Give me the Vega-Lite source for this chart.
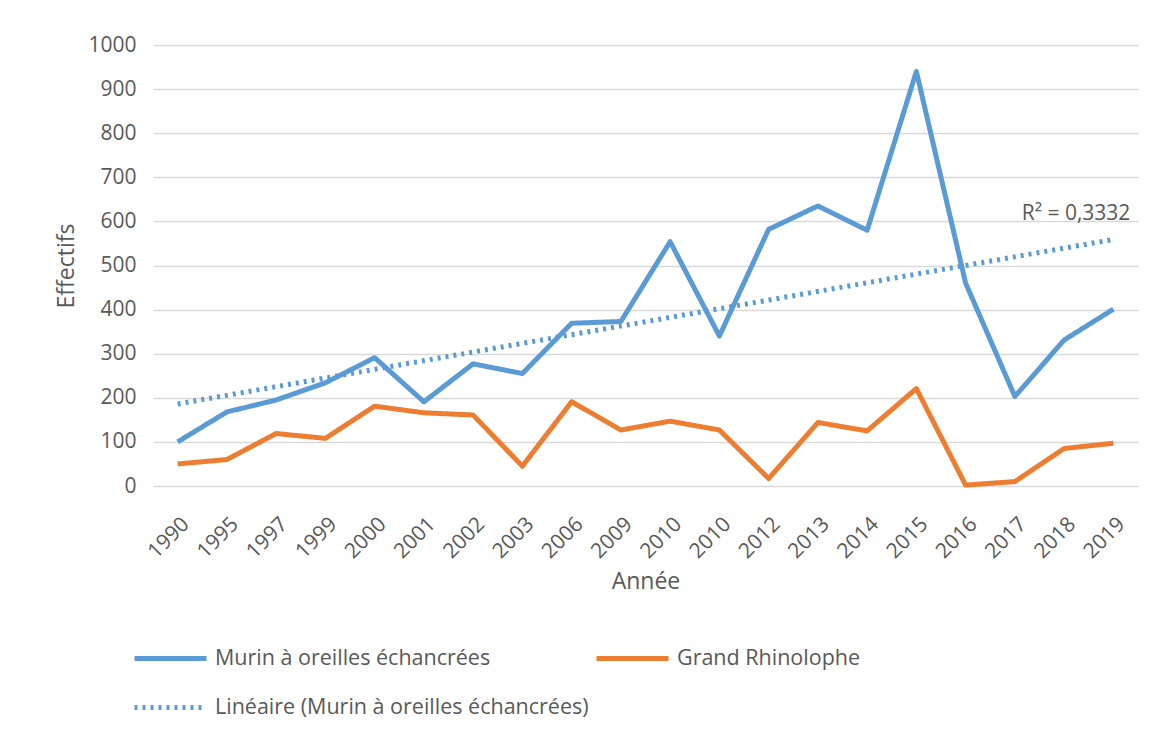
{
  "$schema": "https://vega.github.io/schema/vega-lite/v6.json",
  "width": 985,
  "height": 441,
  "autosize": {"type": "none"},
  "padding": {"left": 153, "top": 45, "right": 12, "bottom": 245},
  "background": "white",
  "config": {
    "font": "Open Sans",
    "view": {"stroke": null}
  },
  "datasets": {
    "series": [
      {"annee": "1990", "serie": "Murin à oreilles échancrées", "effectif": 100},
      {"annee": "1995", "serie": "Murin à oreilles échancrées", "effectif": 168},
      {"annee": "1997", "serie": "Murin à oreilles échancrées", "effectif": 195},
      {"annee": "1999", "serie": "Murin à oreilles échancrées", "effectif": 234},
      {"annee": "2000", "serie": "Murin à oreilles échancrées", "effectif": 291},
      {"annee": "2001", "serie": "Murin à oreilles échancrées", "effectif": 191},
      {"annee": "2002", "serie": "Murin à oreilles échancrées", "effectif": 277},
      {"annee": "2003", "serie": "Murin à oreilles échancrées", "effectif": 255},
      {"annee": "2006", "serie": "Murin à oreilles échancrées", "effectif": 369},
      {"annee": "2009", "serie": "Murin à oreilles échancrées", "effectif": 373},
      {"annee": "2010-a", "serie": "Murin à oreilles échancrées", "effectif": 554},
      {"annee": "2010-b", "serie": "Murin à oreilles échancrées", "effectif": 340},
      {"annee": "2012", "serie": "Murin à oreilles échancrées", "effectif": 582},
      {"annee": "2013", "serie": "Murin à oreilles échancrées", "effectif": 635},
      {"annee": "2014", "serie": "Murin à oreilles échancrées", "effectif": 580},
      {"annee": "2015", "serie": "Murin à oreilles échancrées", "effectif": 940},
      {"annee": "2016", "serie": "Murin à oreilles échancrées", "effectif": 460},
      {"annee": "2017", "serie": "Murin à oreilles échancrées", "effectif": 203},
      {"annee": "2018", "serie": "Murin à oreilles échancrées", "effectif": 331},
      {"annee": "2019", "serie": "Murin à oreilles échancrées", "effectif": 401},
      {"annee": "1990", "serie": "Grand Rhinolophe", "effectif": 50},
      {"annee": "1995", "serie": "Grand Rhinolophe", "effectif": 60},
      {"annee": "1997", "serie": "Grand Rhinolophe", "effectif": 119},
      {"annee": "1999", "serie": "Grand Rhinolophe", "effectif": 108},
      {"annee": "2000", "serie": "Grand Rhinolophe", "effectif": 181},
      {"annee": "2001", "serie": "Grand Rhinolophe", "effectif": 166},
      {"annee": "2002", "serie": "Grand Rhinolophe", "effectif": 161},
      {"annee": "2003", "serie": "Grand Rhinolophe", "effectif": 45},
      {"annee": "2006", "serie": "Grand Rhinolophe", "effectif": 191},
      {"annee": "2009", "serie": "Grand Rhinolophe", "effectif": 127},
      {"annee": "2010-a", "serie": "Grand Rhinolophe", "effectif": 147},
      {"annee": "2010-b", "serie": "Grand Rhinolophe", "effectif": 127},
      {"annee": "2012", "serie": "Grand Rhinolophe", "effectif": 17},
      {"annee": "2013", "serie": "Grand Rhinolophe", "effectif": 144},
      {"annee": "2014", "serie": "Grand Rhinolophe", "effectif": 125},
      {"annee": "2015", "serie": "Grand Rhinolophe", "effectif": 221},
      {"annee": "2016", "serie": "Grand Rhinolophe", "effectif": 2},
      {"annee": "2017", "serie": "Grand Rhinolophe", "effectif": 10},
      {"annee": "2018", "serie": "Grand Rhinolophe", "effectif": 85},
      {"annee": "2019", "serie": "Grand Rhinolophe", "effectif": 97},
      {"annee": "1990", "serie": "Linéaire (Murin à oreilles échancrées)", "effectif": 186},
      {"annee": "2019", "serie": "Linéaire (Murin à oreilles échancrées)", "effectif": 559}
    ],
    "note": [
      {"annee": "2019", "effectif": 617, "texte": "R² = 0,3332"}
    ]
  },
  "layer": [
    {
      "data": {"name": "series"},
      "mark": {"type": "line", "strokeCap": "butt", "strokeJoin": "round"},
      "encoding": {
        "x": {
          "field": "annee",
          "type": "ordinal",
          "sort": null,
          "scale": {"type": "point", "padding": 0.5},
          "axis": {
            "title": "Année",
            "labelExpr": "slice(datum.label, 0, 4)",
            "labelAngle": -45,
            "labelFontSize": 21,
            "labelColor": "#595959",
            "labelPadding": 27,
            "ticks": false,
            "domain": false,
            "grid": false,
            "titleFontSize": 23,
            "titleFontWeight": "normal",
            "titleColor": "#595959",
            "titlePadding": 9
          }
        },
        "y": {
          "field": "effectif",
          "type": "quantitative",
          "scale": {"domain": [0, 1000], "nice": false},
          "axis": {
            "title": "Effectifs",
            "values": [0, 100, 200, 300, 400, 500, 600, 700, 800, 900, 1000],
            "format": "d",
            "ticks": false,
            "domain": false,
            "labelFontSize": 21,
            "labelColor": "#595959",
            "labelPadding": 17,
            "gridColor": "#D9D9D9",
            "gridWidth": 1.5,
            "titleFontSize": 23,
            "titleFontWeight": "normal",
            "titleColor": "#595959",
            "titlePadding": 9
          }
        },
        "color": {
          "field": "serie",
          "type": "nominal",
          "scale": {
            "domain": ["Murin à oreilles échancrées", "Grand Rhinolophe", "Linéaire (Murin à oreilles échancrées)"],
            "range": ["#5B9BD5", "#ED7D31", "#5B9BD5"]
          },
          "legend": {
            "title": null,
            "orient": "none",
            "legendX": -21,
            "legendY": 575,
            "direction": "horizontal",
            "columns": 2,
            "symbolType": "stroke",
            "symbolSize": 5184,
            "symbolStrokeWidth": 5,
            "labelFontSize": 21.5,
            "labelColor": "#595959",
            "labelOffset": 6,
            "labelLimit": 600,
            "rowPadding": -2,
            "columnPadding": -3
          }
        },
        "strokeDash": {
          "field": "serie",
          "type": "nominal",
          "scale": {
            "domain": ["Murin à oreilles échancrées", "Grand Rhinolophe", "Linéaire (Murin à oreilles échancrées)"],
            "range": [[1, 0], [1, 0], [3, 5]]
          }
        },
        "strokeWidth": {
          "field": "serie",
          "type": "nominal",
          "scale": {
            "domain": ["Murin à oreilles échancrées", "Grand Rhinolophe", "Linéaire (Murin à oreilles échancrées)"],
            "range": [5, 5, 3]
          },
          "legend": null
        }
      }
    },
    {
      "data": {"name": "note"},
      "mark": {"type": "text", "align": "right", "baseline": "middle", "dx": 17, "fontSize": 21, "color": "#595959"},
      "encoding": {
        "x": {"field": "annee", "type": "ordinal", "sort": null},
        "y": {"field": "effectif", "type": "quantitative"},
        "text": {"field": "texte"}
      }
    }
  ]
}
